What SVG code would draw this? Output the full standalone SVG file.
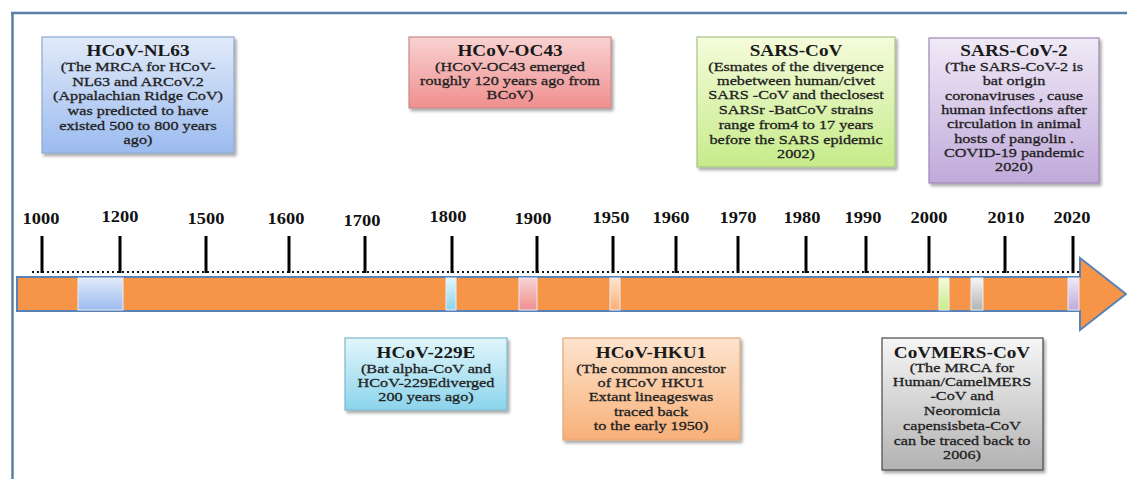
<svg xmlns="http://www.w3.org/2000/svg" width="1127" height="479" viewBox="0 0 1127 479">
<defs>
<style>
.t{font-family:"Liberation Serif","Times New Roman",serif;font-size:16px;font-weight:bold;fill:#1a1a1a;text-anchor:middle}
.b{font-family:"Liberation Serif","Times New Roman",serif;font-size:13.5px;fill:#222;stroke:#222;stroke-width:0.3;text-anchor:middle}
.y{font-family:"Liberation Serif","Times New Roman",serif;font-size:16px;font-weight:bold;fill:#111;text-anchor:middle}
.box{stroke-width:1.2;filter:url(#sh)}
.tick{stroke:#000;stroke-width:3}
.hl{stroke:#e8eef8;stroke-width:1}
</style>
<filter id="sh" x="-10%" y="-10%" width="125%" height="130%">
<feDropShadow dx="2" dy="2.5" stdDeviation="1.5" flood-color="#000" flood-opacity="0.35"/>
</filter>
<linearGradient id="gBlue" x1="0" y1="0" x2="0" y2="1"><stop offset="0" stop-color="#e1eaf9"/><stop offset="1" stop-color="#9bbbef"/></linearGradient>
<linearGradient id="gPink" x1="0" y1="0" x2="0" y2="1"><stop offset="0" stop-color="#f9d2d2"/><stop offset="1" stop-color="#ef8f8f"/></linearGradient>
<linearGradient id="gGreen" x1="0" y1="0" x2="0" y2="1"><stop offset="0" stop-color="#f5fcdb"/><stop offset="1" stop-color="#c6eb8a"/></linearGradient>
<linearGradient id="gPurple" x1="0" y1="0" x2="0" y2="1"><stop offset="0" stop-color="#f0eaf7"/><stop offset="1" stop-color="#c0a9da"/></linearGradient>
<linearGradient id="gCyan" x1="0" y1="0" x2="0" y2="1"><stop offset="0" stop-color="#e2f6fb"/><stop offset="1" stop-color="#8bd4ec"/></linearGradient>
<linearGradient id="gOrange" x1="0" y1="0" x2="0" y2="1"><stop offset="0" stop-color="#fde4ce"/><stop offset="1" stop-color="#f8b078"/></linearGradient>
<linearGradient id="gGrey" x1="0" y1="0" x2="0" y2="1"><stop offset="0" stop-color="#f6f6f6"/><stop offset="1" stop-color="#b2b2b2"/></linearGradient>
</defs>
<rect width="1127" height="479" fill="#ffffff"/>
<g id="frame" stroke="#5a7fa8" stroke-width="2.5" fill="none">
<line x1="11" y1="13" x2="1127" y2="13"/>
<line x1="12.5" y1="13" x2="12.5" y2="479"/>
</g>
<g id="timeline">
<polygon points="17,277 1080,277 1080,258 1126,294 1080,330 1080,311 17,311" fill="#f69547" stroke="#5a82b6" stroke-width="2"/>
<rect class="hl" x="78" y="278" width="45" height="32" fill="url(#gBlue)"/>
<rect class="hl" x="446" y="278" width="10" height="32" fill="url(#gCyan)"/>
<rect class="hl" x="519" y="278" width="18" height="32" fill="url(#gPink)"/>
<rect class="hl" x="610" y="278" width="10" height="32" fill="url(#gOrange)"/>
<rect class="hl" x="939" y="278" width="10" height="32" fill="url(#gGreen)"/>
<rect class="hl" x="971" y="278" width="12" height="32" fill="url(#gGrey)"/>
<rect class="hl" x="1068" y="278" width="11" height="32" fill="url(#gPurple)"/>
<line x1="32" y1="272" x2="1080" y2="272" stroke="#111" stroke-width="2" stroke-dasharray="2 3"/>
<g id="ticks">
<line class="tick" x1="42" y1="236" x2="42" y2="273"/>
<line class="tick" x1="120" y1="236" x2="120" y2="273"/>
<line class="tick" x1="206" y1="236" x2="206" y2="273"/>
<line class="tick" x1="289" y1="236" x2="289" y2="273"/>
<line class="tick" x1="365" y1="236" x2="365" y2="273"/>
<line class="tick" x1="452" y1="236" x2="452" y2="273"/>
<line class="tick" x1="537" y1="236" x2="537" y2="273"/>
<line class="tick" x1="613" y1="236" x2="613" y2="273"/>
<line class="tick" x1="676" y1="236" x2="676" y2="273"/>
<line class="tick" x1="738" y1="236" x2="738" y2="273"/>
<line class="tick" x1="806" y1="236" x2="806" y2="273"/>
<line class="tick" x1="866" y1="236" x2="866" y2="273"/>
<line class="tick" x1="929" y1="236" x2="929" y2="273"/>
<line class="tick" x1="1005" y1="236" x2="1005" y2="273"/>
<line class="tick" x1="1073" y1="236" x2="1073" y2="273"/>
</g>
<g id="years">
<text class="y" transform="translate(41,0) scale(1.15,1)" x="0" y="224">1000</text>
<text class="y" transform="translate(120,0) scale(1.15,1)" x="0" y="222">1200</text>
<text class="y" transform="translate(206,0) scale(1.15,1)" x="0" y="224">1500</text>
<text class="y" transform="translate(286,0) scale(1.15,1)" x="0" y="224">1600</text>
<text class="y" transform="translate(362,0) scale(1.15,1)" x="0" y="226">1700</text>
<text class="y" transform="translate(448,0) scale(1.15,1)" x="0" y="222">1800</text>
<text class="y" transform="translate(533,0) scale(1.15,1)" x="0" y="224">1900</text>
<text class="y" transform="translate(611,0) scale(1.15,1)" x="0" y="223">1950</text>
<text class="y" transform="translate(671,0) scale(1.15,1)" x="0" y="223">1960</text>
<text class="y" transform="translate(738,0) scale(1.15,1)" x="0" y="223">1970</text>
<text class="y" transform="translate(802,0) scale(1.15,1)" x="0" y="223">1980</text>
<text class="y" transform="translate(863,0) scale(1.15,1)" x="0" y="223">1990</text>
<text class="y" transform="translate(929,0) scale(1.15,1)" x="0" y="223">2000</text>
<text class="y" transform="translate(1006,0) scale(1.15,1)" x="0" y="223">2010</text>
<text class="y" transform="translate(1072,0) scale(1.15,1)" x="0" y="223">2020</text>
</g>
</g>
<g id="nl63">
<rect class="box" x="42" y="37" width="192" height="116" fill="url(#gBlue)" stroke="#8da8cf"/>
<g transform="translate(138,0) scale(1.2,1)">
<text class="t" x="0" y="56">HCoV-NL63</text>
<text class="b" x="0" y="71">(The MRCA for HCoV-</text>
<text class="b" x="0" y="86">NL63  and ARCoV.2</text>
<text class="b" x="0" y="100">(Appalachian Ridge CoV)</text>
<text class="b" x="0" y="115">was predicted to have</text>
<text class="b" x="0" y="130">existed 500 to 800 years</text>
<text class="b" x="0" y="144">ago)</text>
</g>
</g>
<g id="oc43">
<rect class="box" x="409" y="37" width="202" height="71" fill="url(#gPink)" stroke="#c98a8a"/>
<g transform="translate(510,0) scale(1.2,1)">
<text class="t" x="0" y="56">HCoV-OC43</text>
<text class="b" x="0" y="71">(HCoV-OC43  emerged</text>
<text class="b" x="0" y="85">roughly 120 years ago from</text>
<text class="b" x="0" y="99">BCoV)</text>
</g>
</g>
<g id="sarscov">
<rect class="box" x="697" y="37" width="198" height="130" fill="url(#gGreen)" stroke="#a9c389"/>
<g transform="translate(796,0) scale(1.2,1)">
<text class="t" x="0" y="56">SARS-CoV</text>
<text class="b" x="0" y="71">(Esmates of the divergence</text>
<text class="b" x="0" y="85">mebetween human/civet</text>
<text class="b" x="0" y="99">SARS -CoV  and theclosest</text>
<text class="b" x="0" y="114">SARSr -BatCoV  strains</text>
<text class="b" x="0" y="129">range from4  to 17 years</text>
<text class="b" x="0" y="144">before the SARS  epidemic</text>
<text class="b" x="0" y="158">2002)</text>
</g>
</g>
<g id="sarscov2">
<rect class="box" x="929" y="38" width="170" height="145" fill="url(#gPurple)" stroke="#9a88b5"/>
<g transform="translate(1014,0) scale(1.2,1)">
<text class="t" x="0" y="56">SARS-CoV-2</text>
<text class="b" x="0" y="71">(The SARS-CoV-2  is</text>
<text class="b" x="0" y="85">bat origin</text>
<text class="b" x="0" y="100">coronaviruses , cause</text>
<text class="b" x="0" y="114">human infections after</text>
<text class="b" x="0" y="128">circulation in animal</text>
<text class="b" x="0" y="143">hosts of pangolin .</text>
<text class="b" x="0" y="157">COVID-19  pandemic</text>
<text class="b" x="0" y="171">2020)</text>
</g>
</g>
<g id="hcov229e">
<rect class="box" x="345" y="338" width="162" height="72" fill="url(#gCyan)" stroke="#7fb8cc"/>
<g transform="translate(426,0) scale(1.2,1)">
<text class="t" x="0" y="358">HCoV-229E</text>
<text class="b" x="0" y="373">(Bat alpha-CoV  and</text>
<text class="b" x="0" y="387">HCoV-229Ediverged</text>
<text class="b" x="0" y="401">200  years ago)</text>
</g>
</g>
<g id="hku1">
<rect class="box" x="563" y="338" width="177" height="102" fill="url(#gOrange)" stroke="#e0a878"/>
<g transform="translate(651,0) scale(1.2,1)">
<text class="t" x="0" y="358">HCoV-HKU1</text>
<text class="b" x="0" y="373">(The common  ancestor</text>
<text class="b" x="0" y="387">of HCoV  HKU1</text>
<text class="b" x="0" y="401">Extant  lineageswas</text>
<text class="b" x="0" y="416">traced back</text>
<text class="b" x="0" y="430">to the early 1950)</text>
</g>
</g>
<g id="mers">
<rect class="box" x="882" y="338" width="161" height="132" fill="url(#gGrey)" stroke="#4a4a4a"/>
<g transform="translate(962,0) scale(1.2,1)">
<text class="t" x="0" y="358">CoVMERS-CoV</text>
<text class="b" x="0" y="372">(The MRCA for</text>
<text class="b" x="0" y="386">Human/CamelMERS</text>
<text class="b" x="0" y="400">-CoV  and</text>
<text class="b" x="0" y="415">Neoromicia</text>
<text class="b" x="0" y="430">capensisbeta-CoV</text>
<text class="b" x="0" y="445">can be traced back to</text>
<text class="b" x="0" y="459">2006)</text>
</g>
</g>
</svg>
